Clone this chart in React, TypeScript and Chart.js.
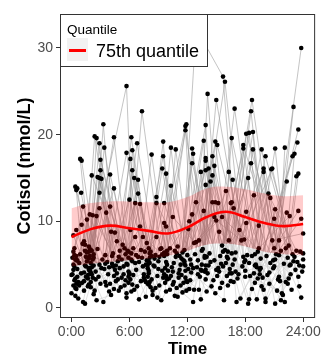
import React, { useEffect, useRef } from "react";
import { Chart, registerables } from "chart.js";

Chart.register(...registerables);

// ---- axis ticks ----
const X_TICK_VALUES = [0, 6, 12, 18, 24];
const X_TICK_LABELS = ["0:00", "6:00", "12:00", "18:00", "24:00"];
const Y_TICK_VALUES = [0, 10, 20, 30];

// ---- quantile curve and ribbons (hours, nmol/L) ----
const QUANTILE_HOURS = [0, 2, 4, 6, 8, 10, 12, 14, 16, 18, 20, 22, 24];
const Q75 = [8.2, 9.1, 9.5, 9.2, 8.9, 8.6, 9.3, 10.5, 11.1, 10.5, 9.8, 9.45, 9.7];
const Q75_UPPER = [11.5, 12.1, 12.3, 12.3, 12.2, 12.2, 12.8, 13.8, 14.0, 13.7, 13.2, 12.9, 13.0];
const Q75_LOWER = [4.8, 5.1, 5.3, 5.5, 5.7, 6.0, 6.6, 7.3, 7.4, 7.1, 6.5, 6.2, 6.1];
const LOW_BAND_FLOOR = [0.4, 0.4, 0.4, 0.4, 0.4, 0.4, 0.4, 0.4, 0.4, 0.4, 0.4, 0.4, 0.4];

const LEGEND_TITLE = "Quantile";
const LEGEND_LABEL = "75th quantile";

// ---- per-subject samples: [time (h), cortisol (nmol/L)] ----
const SUBJECT_SAMPLES: [number, number][][] = [
  [[0.4, 14.0], [2.5, 4.2], [4.6, 3.1], [6.3, 15.9], [8.6, 5.7], [10.9, 2.3], [12.9, 12.2], [15.2, 4.6], [16.6, 12.2], [20.1, 0.7], [22.8, 2.1]],
  [[0.6, 13.8], [2.2, 5.6], [5.1, 2.4], [6.5, 15.0], [9.1, 5.9], [11.4, 3.8], [12.5, 10.8], [14.4, 5.3], [18.9, 13.0], [21.1, 0.5], [23.2, 4.4]],
  [[0.9, 17.2], [3.3, 0.7], [5.4, 4.8], [6.9, 14.8], [8.3, 3.3], [10.6, 5.2], [13.7, 11.2], [15.6, 2.9], [18.1, 11.1], [20.5, 4.1], [22.4, 5.8]],
  [[1.05, 17.0], [2.8, 3.6], [4.9, 5.9], [6.9, 13.2], [9.3, 0.9], [11.2, 4.4], [12.1, 9.1], [14.9, 1.7], [18.1, 9.8], [19.9, 2.1], [22.9, 6.2]],
  [[1.0, 13.3], [3.6, 2.6], [4.3, 6.3], [6.0, 12.5], [8.9, 1.2], [10.2, 6.9], [12.2, 10.0], [14.1, 4.0], [17.4, 9.0], [20.6, 5.2], [23.8, 1.2]],
  [[1.2, 11.7], [2.9, 5.0], [5.7, 1.7], [6.6, 12.1], [9.6, 3.9], [11.7, 6.7], [14.1, 24.7], [15.4, 6.0], [17.2, 3.4], [19.7, 18.3], [22.2, 3.0]],
  [[1.6, 10.2], [3.1, 4.6], [5.2, 3.5], [7.1, 12.0], [8.5, 4.9], [10.5, 2.7], [12.6, 0.7], [14.6, 17.5], [17.7, 4.8], [20.1, 17.5], [23.5, 3.6]],
  [[1.05, 9.6], [2.4, 2.0], [4.8, 5.4], [7.3, 22.7], [9.8, 1.9], [11.1, 4.0], [13.2, 2.1], [14.8, 16.4], [16.9, 5.6], [19.9, 16.1], [22.6, 4.9]],
  [[0.5, 9.0], [3.5, 6.1], [5.9, 2.9], [6.1, 9.0], [8.1, 3.0], [10.8, 5.9], [13.5, 4.3], [14.2, 16.1], [18.4, 1.0], [19.9, 15.7], [23.0, 5.4]],
  [[0.2, 8.4], [2.6, 0.9], [4.1, 1.5], [7.1, 9.4], [9.0, 4.5], [11.9, 3.1], [12.7, 2.1], [14.6, 15.3], [17.0, 6.4], [20.8, 16.1], [23.6, 2.5]],
  [[1.9, 10.8], [3.8, 3.9], [5.5, 6.9], [6.6, 8.2], [8.7, 2.3], [10.4, 4.7], [13.8, 5.8], [14.4, 14.6], [17.5, 1.1], [21.1, 18.4], [22.5, 3.4]],
  [[0.5, 13.6], [2.3, 4.9], [4.4, 2.2], [7.4, 8.2], [9.4, 6.2], [11.5, 1.8], [12.4, 5.0], [15.1, 18.8], [18.7, 2.2], [20.6, 12.7], [23.3, 6.6]],
  [[0.0, 1.7], [2.4, 19.8], [4.7, 4.0], [7.0, 5.3], [8.3, 17.7], [10.1, 3.4], [12.8, 6.2], [14.9, 19.2], [16.4, 4.5], [20.4, 13.2], [22.1, 0.7]],
  [[0.4, 1.4], [2.6, 19.6], [5.0, 6.6], [6.4, 3.8], [9.5, 19.2], [10.7, 1.4], [13.3, 3.6], [15.0, 24.0], [17.8, 5.9], [21.1, 11.4], [22.7, 5.0]],
  [[0.7, 1.1], [2.9, 19.0], [4.2, 5.1], [7.6, 6.5], [9.5, 17.5], [11.3, 2.6], [12.9, 32.3], [15.7, 26.7], [17.3, 3.9], [21.0, 10.3], [23.9, 4.2]],
  [[1.2, 0.7], [3.4, 18.5], [5.6, 3.2], [6.8, 2.5], [9.4, 16.1], [10.9, 6.3], [13.0, 4.7], [15.9, 26.1], [18.0, 4.3], [19.4, 9.5], [22.4, 2.8]],
  [[1.4, 0.5], [3.3, 21.2], [4.5, 4.4], [7.2, 3.1], [9.8, 15.5], [11.6, 5.5], [12.3, 3.2], [14.6, 12.2], [16.2, 2.6], [20.7, 16.0], [23.1, 5.9]],
  [[1.3, 7.7], [3.0, 17.1], [5.8, 5.0], [6.2, 1.9], [8.8, 12.8], [10.3, 3.7], [13.6, 6.8], [14.9, 12.2], [16.6, 4.0], [21.4, 3.3], [22.1, 18.5]],
  [[1.15, 7.4], [3.0, 15.9], [4.0, 2.8], [7.7, 1.3], [8.8, 12.1], [11.0, 7.1], [12.2, 2.2], [15.2, 12.1], [18.3, 0.5], [19.6, 5.7], [23.4, 19.1]],
  [[1.4, 7.3], [2.1, 15.3], [4.7, 7.7], [6.7, 4.4], [9.6, 12.1], [11.8, 4.9], [13.1, 5.5], [16.0, 13.5], [17.1, 0.7], [20.2, 6.0], [23.5, 20.6]],
  [[1.8, 7.1], [2.7, 15.1], [5.3, 7.3], [7.9, 2.8], [9.6, 9.8], [10.5, 4.2], [12.9, 7.6], [14.8, 10.5], [16.8, 3.0], [19.2, 1.0], [22.9, 17.5]],
  [[0.3, 3.2], [2.9, 15.0], [4.9, 2.0], [7.8, 7.5], [9.8, 9.4], [11.2, 6.0], [12.7, 7.5], [15.0, 10.1], [17.6, 7.8], [21.7, 0.9], [23.1, 17.8]],
  [[0.8, 5.2], [3.1, 14.9], [4.4, 3.7], [8.0, 6.9], [8.8, 8.2], [11.6, 2.9], [13.2, 7.8], [15.6, 10.5], [17.9, 7.9], [21.9, 1.5], [23.5, 15.5]],
  [[1.7, 2.5], [2.9, 13.3], [5.2, 5.6], [7.4, 4.8], [9.3, 6.9], [10.3, 18.5], [13.9, 3.3], [15.3, 8.8], [16.3, 7.8], [21.8, 1.7], [23.3, 15.2]],
  [[0.6, 4.5], [2.9, 11.5], [4.2, 6.0], [6.3, 5.4], [8.4, 2.0], [10.8, 18.3], [12.4, 4.1], [15.8, 0.9], [16.3, 15.7], [20.9, 4.6], [22.3, 14.6]],
  [[1.5, 3.6], [3.6, 11.0], [5.7, 1.2], [6.9, 5.9], [9.6, 6.4], [11.9, 21.2], [13.4, 1.0], [14.3, 6.3], [16.7, 14.8], [20.3, 3.8], [22.3, 11.0]],
  [[0.1, 5.8], [2.6, 10.6], [4.6, 4.9], [7.5, 3.5], [9.2, 6.8], [11.8, 21.0], [12.6, 4.6], [15.5, 5.1], [16.6, 19.6], [19.5, 4.4], [23.5, 11.2]],
  [[1.1, 2.9], [2.2, 10.7], [5.4, 3.9], [6.5, 2.1], [8.0, 4.0], [11.8, 20.5], [13.8, 6.0], [14.7, 3.2], [16.9, 23.0], [21.2, 6.2], [23.8, 10.3]],
  [[0.9, 6.2], [2.0, 3.0], [4.4, 19.7], [7.3, 5.8], [9.1, 2.6], [10.3, 14.1], [12.3, 5.6], [14.0, 1.9], [17.8, 18.8], [21.0, 6.9], [23.8, 30.0]],
  [[0.3, 4.8], [3.2, 5.6], [4.0, 15.4], [7.0, 1.0], [9.5, 3.5], [10.5, 10.5], [13.5, 6.6], [15.1, 3.7], [17.8, 18.4], [21.5, 7.8], [23.0, 23.2]],
  [[1.3, 4.1], [2.7, 6.8], [4.4, 13.8], [6.1, 3.3], [9.9, 5.0], [11.0, 1.3], [12.5, 18.4], [15.9, 6.7], [18.3, 15.0], [19.4, 6.9], [22.6, 10.6]],
  [[0.5, 2.2], [3.4, 4.5], [4.0, 11.7], [7.7, 5.0], [8.2, 6.5], [10.6, 3.0], [12.6, 17.8], [14.5, 2.5], [18.6, 16.7], [20.8, 7.8], [24.0, 8.6]],
  [[1.6, 5.4], [2.3, 1.6], [4.1, 8.8], [6.7, 6.1], [8.9, 3.7], [11.3, 5.0], [12.5, 16.7], [15.3, 4.2], [18.8, 18.3], [21.6, 3.1], [24.0, 4.8]],
  [[0.7, 3.0], [3.0, 2.8], [4.5, 8.7], [7.9, 4.6], [9.7, 2.9], [11.5, 6.4], [13.9, 21.1], [14.8, 5.5], [18.1, 20.1], [22.0, 5.1], [24.0, 5.6]],
  [[1.9, 6.0], [3.7, 5.3], [5.7, 17.9], [7.2, 6.7], [8.4, 1.5], [10.0, 4.3], [13.7, 19.3], [14.2, 4.9], [18.4, 20.2], [19.8, 3.5], [24.0, 6.3]],
  [[1.0, 4.0], [2.1, 6.6], [5.7, 25.6], [6.4, 6.9], [9.0, 5.4], [11.1, 3.5], [13.9, 17.3], [15.7, 4.8], [18.8, 20.3], [20.1, 1.1], [22.2, 6.9]],
  [[0.2, 5.0], [3.9, 1.9], [4.8, 3.3], [6.2, 19.7], [8.1, 5.2], [10.7, 6.6], [13.9, 17.0], [15.4, 2.3], [18.7, 24.0], [21.1, 5.6], [22.7, 3.9]],
  [[0.8, 2.6], [2.5, 3.3], [5.0, 4.6], [6.8, 19.0], [8.7, 6.1], [11.9, 2.0], [13.4, 15.7], [14.0, 5.9], [18.6, 22.7], [20.5, 2.8], [23.7, 6.5]],
  [[1.4, 6.6], [2.0, 4.1], [5.9, 5.8], [6.3, 18.2], [9.4, 4.3], [10.2, 2.1], [13.9, 15.9], [15.6, 7.2], [16.5, 12.1], [19.7, 2.5], [22.5, 7.2]],
  [[0.0, 3.8], [3.5, 3.0], [4.3, 4.8], [6.1, 17.2], [8.0, 2.7], [11.4, 5.7], [13.9, 14.2], [15.0, 4.4], [16.8, 11.5], [21.3, 2.0], [23.4, 5.3]],
];

// ---- further low samples of the same subjects (same order) ----
const SUBJECT_EXTRA_SAMPLES: [number, number][][] = [
  [[3.5, 5.1], [11.8, 4.3], [21.5, 3.6]],
  [[1.6, 6.4], [7.6, 3.2], [16.2, 5.7]],
  [[2.1, 3.9], [12.0, 6.1], [23.6, 4.9]],
  [[3.9, 4.7], [8.1, 6.3], [16.5, 3.1]],
  [[2.3, 5.8], [9.8, 3.7], [21.7, 6.6]],
  [[0.3, 6.9], [8.1, 5.8], [13.1, 3.9]],
  [[0.4, 3.4], [9.6, 6.0], [16.1, 5.9]],
  [[0.2, 6.5], [5.9, 3.6], [21.0, 4.8]],
  [[1.8, 4.4], [11.8, 3.5], [21.5, 6.1]],
  [[1.4, 4.9], [5.6, 6.2], [13.4, 4.4]],
  [[0.6, 5.5], [12.0, 3.0], [19.1, 5.0]],
  [[1.3, 3.1], [5.7, 5.1], [13.9, 4.4]],
  [[1.5, 5.9], [5.5, 2.6], [18.4, 5.2]],
  [[1.8, 4.6], [8.0, 5.4], [19.0, 2.9]],
  [[1.7, 3.8], [5.8, 6.6], [19.2, 4.7]],
  [[2.3, 6.2], [7.9, 5.0], [20.9, 5.5]],
  [[2.2, 3.5], [8.3, 6.0], [18.2, 6.1]],
  [[2.1, 4.7], [7.5, 3.9], [19.3, 6.5]],
  [[2.0, 2.4], [6.2, 5.6], [13.5, 5.0]],
  [[0.2, 4.4], [7.9, 3.6], [18.9, 4.0]],
  [[0.5, 5.5], [6.6, 5.2], [17.9, 5.3]],
  [[1.9, 4.3], [6.0, 4.0], [19.0, 6.2]],
  [[1.9, 6.8], [6.3, 2.7], [19.5, 3.9]],
  [[0.4, 5.6], [11.7, 5.4], [18.5, 3.7]],
  [[1.8, 6.5], [9.7, 4.6], [18.0, 5.5]],
  [[0.5, 6.0], [8.2, 2.4], [18.7, 6.0]],
  [[1.3, 2.0], [6.2, 6.3], [13.8, 4.2]],
  [[0.3, 6.1], [9.9, 6.2], [19.3, 3.4]],
  [[1.5, 4.8], [6.0, 3.9], [15.7, 6.5]],
  [[1.8, 2.7], [8.6, 4.8], [19.6, 4.6]],
  [[0.2, 2.6], [8.0, 4.3], [13.9, 4.9]],
  [[1.9, 4.6], [5.9, 4.2], [16.2, 6.5]],
  [[0.1, 3.9], [9.9, 6.6], [17.0, 4.2]],
  [[2.0, 5.2], [5.9, 6.5], [16.1, 3.7]],
  [[0.6, 3.6], [11.7, 5.1], [16.6, 6.3]],
  [[0.5, 2.8], [7.7, 3.0], [16.7, 5.0]],
  [[2.0, 6.7], [12.1, 4.5], [16.0, 5.2]],
  [[1.8, 5.7], [9.9, 3.3], [16.4, 4.0]],
  [[0.4, 2.3], [7.8, 5.5], [18.0, 3.6]],
  [[1.7, 3.4], [9.8, 5.3], [19.0, 4.9]],
];

const FONT = "'Liberation Sans', Arial, Helvetica, sans-serif";

const panelBorderPlugin = {
  id: "panelBorder",
  afterDatasetsDraw(chart: any) {
    const { ctx, chartArea: a } = chart;
    ctx.save();
    ctx.strokeStyle = "#333333";
    ctx.lineWidth = 1;
    ctx.strokeRect(a.left + 0.5, a.top + 0.5, a.right - a.left - 1, a.bottom - a.top - 1);
    ctx.restore();
  },
};

const legendBoxPlugin = {
  id: "legendBox",
  afterDraw(chart: any) {
    const { ctx, chartArea: a } = chart;
    const x0 = a.left;
    const y0 = a.top;
    ctx.save();
    ctx.fillStyle = "#ffffff";
    ctx.fillRect(x0, y0, 148, 53);
    ctx.strokeStyle = "#333333";
    ctx.lineWidth = 1;
    ctx.strokeRect(x0 + 0.5, y0 + 0.5, 147, 52);
    ctx.fillStyle = "#000000";
    ctx.textBaseline = "alphabetic";
    ctx.textAlign = "left";
    ctx.font = `13.5px ${FONT}`;
    ctx.fillText(LEGEND_TITLE, x0 + 7, y0 + 20);
    ctx.fillStyle = "#f2f2f2";
    ctx.fillRect(x0 + 7, y0 + 24, 21, 23);
    ctx.strokeStyle = "#ff0000";
    ctx.lineWidth = 3;
    ctx.beginPath();
    ctx.moveTo(x0 + 9, y0 + 36.5);
    ctx.lineTo(x0 + 26, y0 + 36.5);
    ctx.stroke();
    ctx.fillStyle = "#000000";
    ctx.font = `18px ${FONT}`;
    ctx.fillText(LEGEND_LABEL, x0 + 36, y0 + 43);
    ctx.restore();
  },
};

export default function App() {
  const canvasRef = useRef<HTMLCanvasElement>(null);

  useEffect(() => {
    if (!canvasRef.current) return;

    const subjects = SUBJECT_SAMPLES.map((s, i) => [...s, ...(SUBJECT_EXTRA_SAMPLES[i] || [])]);

    const subjectLines = subjects.map((samples) => ({
      type: "line" as const,
      data: [...samples].sort((p, q) => p[0] - q[0]).map(([x, y]) => ({ x, y })),
      borderColor: "rgba(150,150,150,0.75)",
      borderWidth: 0.75,
      pointRadius: 0,
      fill: false,
      tension: 0,
      order: 5,
    }));

    const allPoints = subjects.flat().map(([x, y]) => ({ x, y }));
    const band = (vals: number[]) => QUANTILE_HOURS.map((x, i) => ({ x, y: vals[i] }));

    const datasets: any[] = [
      ...subjectLines,
      {
        type: "line",
        data: band(LOW_BAND_FLOOR),
        borderWidth: 0,
        pointRadius: 0,
        fill: false,
        tension: 0.4,
        order: 4,
      },
      {
        type: "line",
        data: band(Q75_LOWER),
        borderWidth: 0,
        pointRadius: 0,
        fill: "-1",
        backgroundColor: "rgba(255,255,255,0.5)",
        tension: 0.4,
        order: 4,
      },
      {
        type: "line",
        data: allPoints,
        showLine: false,
        pointRadius: 2.3,
        pointBackgroundColor: "#000000",
        pointBorderWidth: 0,
        order: 3,
      },
      {
        type: "line",
        data: band(Q75_LOWER),
        borderWidth: 0,
        pointRadius: 0,
        fill: false,
        tension: 0.4,
        order: 2,
      },
      {
        type: "line",
        data: band(Q75_UPPER),
        borderWidth: 0,
        pointRadius: 0,
        fill: "-1",
        backgroundColor: "rgba(255,0,0,0.2)",
        tension: 0.4,
        order: 2,
      },
      {
        type: "line",
        data: band(Q75),
        borderColor: "#ff0000",
        borderWidth: 2.6,
        pointRadius: 0,
        fill: false,
        tension: 0.4,
        order: 1,
      },
    ];

    const chart = new Chart(canvasRef.current, {
      type: "line",
      data: { datasets },
      options: {
        animation: false,
        responsive: false,
        devicePixelRatio: 1,
        events: [],
        layout: { padding: { top: 14, right: 7, left: 0, bottom: 0 } },
        plugins: {
          legend: { display: false },
          tooltip: { enabled: false },
        },
        scales: {
          x: {
            type: "linear",
            min: -1.19,
            max: 25.24,
            afterBuildTicks: (scale: any) => {
              scale.ticks = X_TICK_VALUES.map((value) => ({ value }));
            },
            afterFit: (scale: any) => {
              scale.height = 38;
            },
            ticks: {
              autoSkip: false,
              maxRotation: 0,
              padding: 2,
              color: "#4d4d4d",
              font: { family: FONT, size: 14 },
              callback: (value: any) => X_TICK_LABELS[X_TICK_VALUES.indexOf(Number(value))],
            },
            grid: {
              display: true,
              drawOnChartArea: false,
              drawTicks: true,
              tickLength: 4,
              tickColor: "#333333",
              tickWidth: 1,
            },
            border: { display: false },
            title: {
              display: true,
              text: "Time",
              color: "#000000",
              font: { family: FONT, size: 17, weight: "bold", lineHeight: 1 },
              padding: { top: 0, bottom: -2 },
            },
          },
          y: {
            type: "linear",
            min: -1.154,
            max: 33.92,
            afterBuildTicks: (scale: any) => {
              scale.ticks = Y_TICK_VALUES.map((value) => ({ value }));
            },
            afterFit: (scale: any) => {
              scale.width = 60;
            },
            ticks: {
              autoSkip: false,
              padding: 3,
              color: "#4d4d4d",
              font: { family: FONT, size: 14 },
              callback: (value: any) => String(value),
            },
            grid: {
              display: true,
              drawOnChartArea: false,
              drawTicks: true,
              tickLength: 4,
              tickColor: "#333333",
              tickWidth: 1,
            },
            border: { display: false },
            title: {
              display: true,
              text: "Cotisol (nmol/L)",
              color: "#000000",
              font: { family: FONT, size: 18, weight: "bold", lineHeight: 1 },
              padding: { top: 16, bottom: 0 },
            },
          },
        },
      },
      plugins: [panelBorderPlugin, legendBoxPlugin],
    });

    return () => chart.destroy();
  }, []);

  return (
    <div style={{ position: "absolute", left: 0, top: 0, width: 323, height: 356 }}>
      <canvas ref={canvasRef} width={323} height={356} style={{ display: "block" }} />
    </div>
  );
}
